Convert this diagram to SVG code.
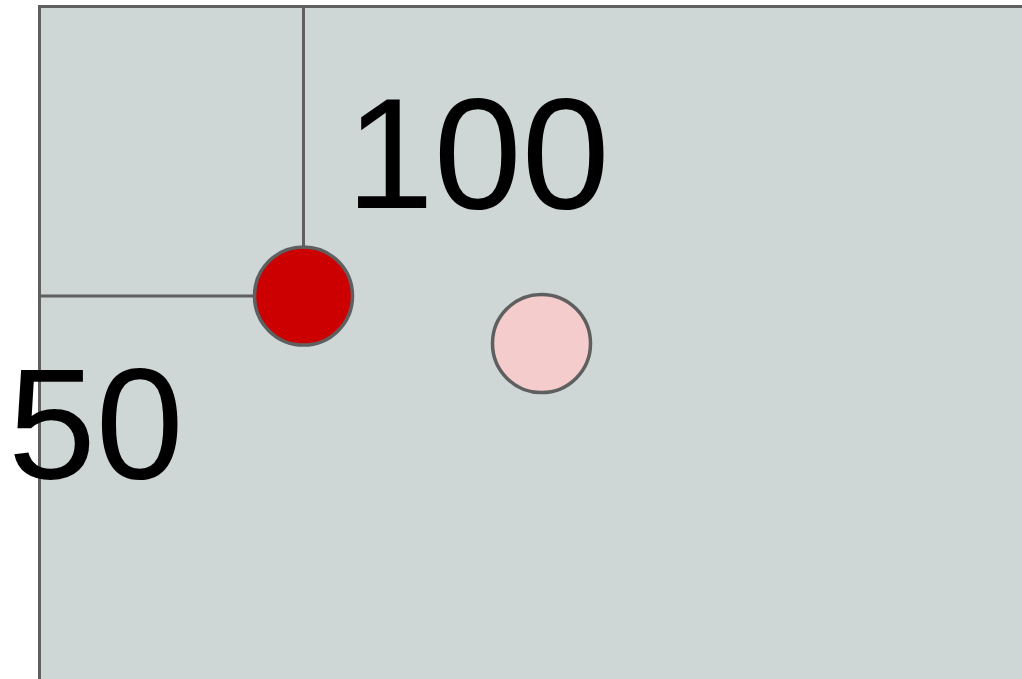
<svg xmlns="http://www.w3.org/2000/svg" width="1022" height="679" viewBox="0 0 1022 679">
<style>
.ln{stroke:#5f5f5f;stroke-width:3;fill:none}
.nd{stroke:#5f5f5f;stroke-width:3.5}
.lbl{font-family:"Liberation Sans",Arial,sans-serif;font-size:158px;fill:#000}
</style>
<rect x="0" y="0" width="1022" height="679" fill="#ffffff"/>
<g id="area">
<rect x="39.5" y="6.5" width="1100" height="800" fill="#cfd6d6" stroke="#5f5f5f" stroke-width="3"/>
</g>
<g id="connectors">
<line class="ln" x1="303.5" y1="6.5" x2="303.5" y2="247"/>
<line class="ln" x1="39.5" y1="296" x2="254" y2="296"/>
</g>
<g id="point-red">
<circle class="nd" cx="303.5" cy="296" r="49" fill="#cc0000"/>
</g>
<g id="point-pink">
<circle class="nd" cx="541.5" cy="343.5" r="49" fill="#f4cccc"/>
</g>
<g id="label-100">
<text class="lbl" x="346" y="208">100</text>
</g>
<g id="label-50">
<text class="lbl" x="8" y="478">50</text>
</g>
</svg>
